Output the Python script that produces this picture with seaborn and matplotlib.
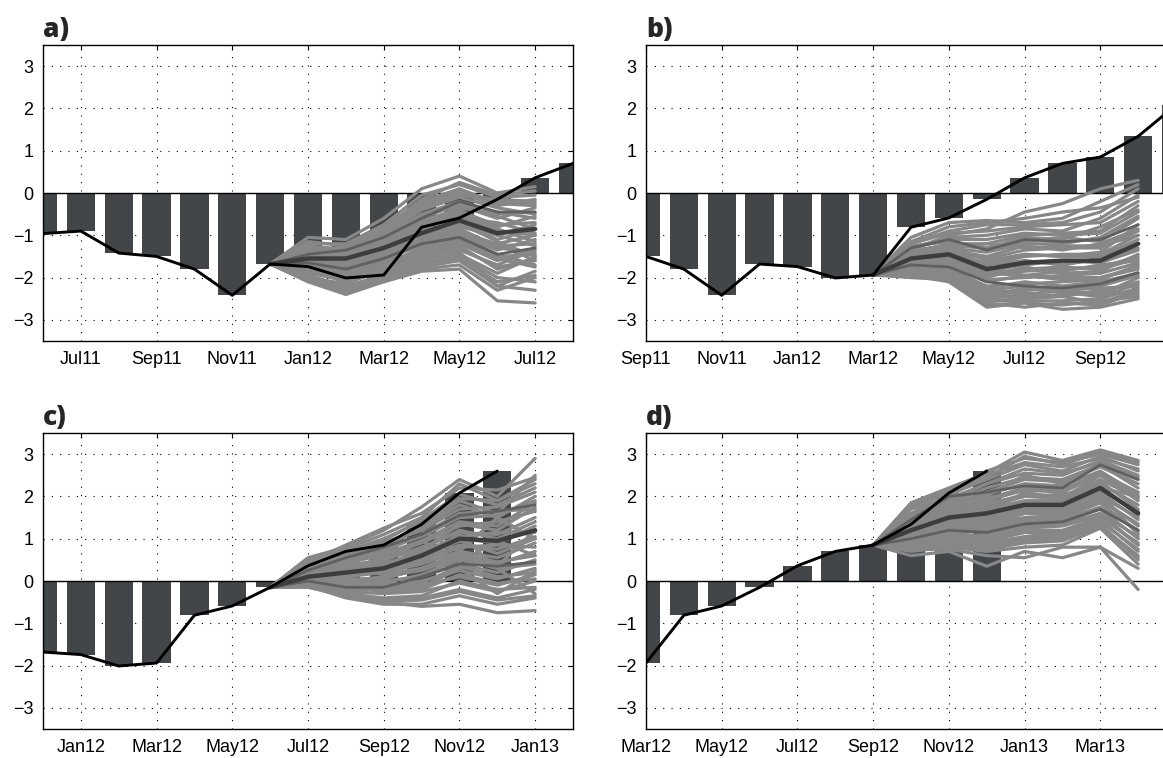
import numpy as np
import pandas as pd
import matplotlib
matplotlib.use("Agg")
import matplotlib.pyplot as plt
import seaborn as sns

# ---------------- data ----------------
months = ["Jun11", "Jul11", "Aug11", "Sep11", "Oct11", "Nov11", "Dec11",
          "Jan12", "Feb12", "Mar12", "Apr12", "May12", "Jun12", "Jul12",
          "Aug12", "Sep12", "Oct12", "Nov12", "Dec12", "Jan13", "Feb13",
          "Mar13", "Apr13", "May13"]

# observed monthly index, Jun11 .. Dec12
obs = [-0.96, -0.90, -1.42, -1.50, -1.80, -2.42, -1.68, -1.74, -2.01, -1.94,
       -0.81, -0.59, -0.15, 0.36, 0.70, 0.85, 1.34, 2.08, 2.60]

panel_labels = ["a)", "b)", "c)", "d)"]
panel_first = ["Jun11", "Sep11", "Dec11", "Mar12"]     # left edge of each panel
panel_last = ["Aug12", "Nov12", "Feb13", "May13"]      # right edge of each panel
fc_start = ["Dec11", "Mar12", "Jun12", "Sep12"]        # forecast initial month

# ensemble members: 7 lead months after the start month
ens_a = [
    [-1.05, -1.10, -0.60, 0.10, 0.40, 0.00, 0.15],
    [-1.20, -1.20, -0.75, -0.05, 0.20, -0.10, -0.05],
    [-1.30, -1.30, -0.90, -0.25, 0.05, -0.20, -0.25],
    [-1.35, -1.40, -1.00, -0.40, -0.10, -0.35, -0.50],
    [-1.40, -1.45, -1.10, -0.55, -0.30, -0.60, -0.35],
    [-1.45, -1.50, -1.20, -0.70, -0.45, -0.75, -0.70],
    [-1.50, -1.55, -1.25, -0.85, -0.55, -0.90, -1.00],
    [-1.55, -1.60, -1.35, -1.00, -0.75, -1.10, -0.85],
    [-1.60, -1.70, -1.40, -1.05, -0.85, -1.25, -1.20],
    [-1.62, -1.75, -1.50, -1.15, -1.00, -1.35, -1.10],
    [-1.70, -1.80, -1.55, -1.25, -1.10, -1.50, -1.45],
    [-1.75, -1.90, -1.65, -1.35, -1.20, -1.60, -1.30],
    [-1.80, -2.00, -1.75, -1.45, -1.30, -1.75, -1.60],
    [-1.85, -2.10, -1.85, -1.55, -1.45, -1.90, -1.50],
    [-1.95, -2.20, -1.95, -1.70, -1.55, -2.10, -1.95],
    [-2.05, -2.35, -2.05, -1.80, -1.70, -2.30, -2.00],
    [-2.10, -2.40, -2.10, -1.85, -1.80, -2.55, -2.60],
    [-1.50, -1.35, -1.00, -0.30, -0.05, -0.15, -0.20],
    [-1.70, -1.65, -1.30, -0.70, -0.35, -0.50, -0.45],
    [-1.90, -1.85, -1.60, -1.10, -0.95, -1.20, -1.60],
    [-1.60, -1.60, -1.15, -0.60, -0.25, -0.55, -0.85],
    [-2.00, -2.15, -1.80, -1.60, -1.40, -2.20, -1.85],
    [-1.45, -1.70, -1.45, -0.90, -0.70, -1.00, -1.25],
    [-1.55, -1.95, -1.60, -1.20, -1.00, -1.45, -1.70],
    [-1.15, -1.25, -0.85, -0.15, 0.25, -0.05, 0.05],
    [-1.25, -1.35, -0.95, -0.35, 0.00, -0.30, -0.15],
    [-1.40, -1.35, -1.05, -0.50, -0.20, -0.45, -0.60],
    [-1.50, -1.45, -1.15, -0.65, -0.40, -0.80, -0.55],
    [-1.55, -1.65, -1.20, -0.80, -0.60, -0.70, -0.95],
    [-1.65, -1.60, -1.30, -0.95, -0.80, -1.00, -0.75],
    [-1.70, -1.70, -1.45, -1.10, -0.90, -1.30, -1.40],
    [-1.75, -1.85, -1.50, -1.20, -1.05, -1.20, -1.00],
    [-1.80, -1.95, -1.70, -1.30, -1.15, -1.55, -1.75],
    [-1.90, -2.05, -1.75, -1.50, -1.35, -1.70, -1.35],
    [-1.95, -2.25, -1.90, -1.65, -1.50, -2.00, -2.10],
    [-2.00, -2.30, -2.00, -1.75, -1.60, -2.20, -2.30],
    [-1.35, -1.55, -1.25, -0.75, -0.50, -0.85, -1.15],
    [-1.65, -2.00, -1.70, -1.40, -1.25, -1.80, -1.55],
    [-1.45, -1.25, -0.80, -0.20, 0.10, -0.25, -0.30],
    [-1.85, -1.80, -1.40, -0.95, -0.70, -1.15, -1.50],
]
mean_a = [-1.55, -1.55, -1.30, -0.95, -0.65, -0.95, -0.85]
upper_a = [-1.45, -1.35, -1.05, -0.60, -0.20, -0.45, -0.45]
lower_a = [-1.65, -1.80, -1.55, -1.20, -1.05, -1.45, -1.30]

ens_b = [
    [-1.35, -1.00, -0.85, -0.45, -0.25, 0.10, 0.30],
    [-1.05, -0.70, -0.65, -0.70, -0.60, -0.20, 0.20],
    [-1.20, -0.90, -0.75, -0.75, -0.70, -0.45, 0.10],
    [-1.30, -1.05, -1.00, -0.85, -0.90, -0.60, -0.05],
    [-1.40, -1.20, -1.20, -1.00, -0.95, -0.90, -0.30],
    [-1.45, -1.30, -1.40, -1.20, -1.20, -1.05, -0.55],
    [-1.50, -1.40, -1.55, -1.35, -1.30, -1.30, -0.90],
    [-1.55, -1.50, -1.70, -1.50, -1.45, -1.45, -1.00],
    [-1.60, -1.55, -1.85, -1.70, -1.60, -1.65, -1.35],
    [-1.65, -1.60, -1.95, -1.85, -1.80, -1.75, -1.50],
    [-1.70, -1.70, -2.05, -2.00, -1.95, -1.90, -1.65],
    [-1.75, -1.80, -2.20, -2.15, -2.10, -2.05, -1.70],
    [-1.80, -1.90, -2.35, -2.30, -2.25, -2.20, -1.95],
    [-1.85, -1.95, -2.45, -2.45, -2.40, -2.35, -2.10],
    [-1.90, -2.00, -2.55, -2.55, -2.55, -2.50, -2.25],
    [-1.95, -2.10, -2.70, -2.60, -2.75, -2.70, -2.50],
    [-2.00, -2.05, -2.60, -2.70, -2.60, -2.65, -2.35],
    [-1.25, -1.15, -1.30, -1.05, -1.10, -0.80, -0.40],
    [-1.35, -1.25, -1.60, -1.45, -1.50, -1.40, -0.75],
    [-1.55, -1.65, -2.00, -1.75, -1.90, -1.85, -1.45],
    [-1.70, -1.85, -2.30, -2.20, -2.30, -2.40, -2.00],
    [-1.45, -1.35, -1.70, -1.60, -1.70, -1.55, -1.20],
    [-1.60, -1.75, -2.40, -2.35, -2.45, -2.30, -2.40],
    [-1.80, -1.60, -1.90, -1.95, -2.05, -2.00, -1.80],
    [-1.15, -0.80, -0.70, -0.60, -0.45, -0.35, -0.10],
    [-1.20, -0.95, -0.90, -0.80, -0.75, -0.70, -0.20],
    [-1.30, -1.10, -1.10, -0.95, -1.00, -0.95, -0.45],
    [-1.40, -1.25, -1.30, -1.15, -1.05, -1.15, -0.60],
    [-1.45, -1.35, -1.50, -1.25, -1.35, -1.20, -0.85],
    [-1.50, -1.45, -1.65, -1.45, -1.50, -1.50, -1.10],
    [-1.55, -1.55, -1.80, -1.60, -1.70, -1.55, -1.30],
    [-1.60, -1.65, -1.90, -1.80, -1.75, -1.80, -1.55],
    [-1.65, -1.70, -2.10, -1.95, -2.00, -2.00, -1.75],
    [-1.70, -1.75, -2.25, -2.10, -2.20, -2.10, -1.90],
    [-1.75, -1.85, -2.45, -2.25, -2.35, -2.45, -2.15],
    [-1.80, -1.95, -2.55, -2.50, -2.45, -2.60, -2.30],
    [-1.85, -2.00, -2.65, -2.60, -2.65, -2.55, -2.45],
    [-1.50, -1.30, -1.20, -1.30, -1.25, -1.25, -1.00],
    [-1.65, -1.50, -1.75, -1.95, -1.85, -1.70, -1.60],
    [-1.90, -2.05, -2.50, -2.40, -2.30, -2.25, -2.20],
]
mean_b = [-1.55, -1.45, -1.80, -1.65, -1.60, -1.60, -1.20]
upper_b = [-1.30, -1.10, -1.35, -1.10, -1.15, -1.10, -0.75]
lower_b = [-1.70, -1.75, -2.10, -2.20, -2.25, -2.15, -1.88]

ens_c = [
    [0.55, 0.80, 1.20, 1.75, 2.40, 2.00, 2.90],
    [0.45, 0.85, 1.25, 1.60, 2.20, 2.15, 2.45],
    [0.40, 0.70, 1.00, 1.40, 1.95, 1.90, 2.30],
    [0.35, 0.60, 0.90, 1.20, 1.70, 1.75, 2.10],
    [0.30, 0.50, 0.75, 1.05, 1.50, 1.55, 1.90],
    [0.25, 0.45, 0.60, 0.90, 1.30, 1.40, 1.65],
    [0.20, 0.35, 0.50, 0.80, 1.15, 1.10, 1.50],
    [0.15, 0.30, 0.40, 0.65, 1.00, 0.90, 1.30],
    [0.10, 0.20, 0.30, 0.50, 0.85, 0.75, 1.05],
    [0.08, 0.10, 0.20, 0.40, 0.70, 0.55, 0.90],
    [0.05, 0.00, 0.10, 0.25, 0.55, 0.40, 0.70],
    [0.02, -0.05, 0.00, 0.10, 0.40, 0.20, 0.50],
    [0.00, -0.10, -0.10, 0.00, 0.25, 0.05, 0.30],
    [-0.03, -0.20, -0.20, -0.10, 0.10, -0.10, 0.15],
    [-0.05, -0.25, -0.30, -0.25, -0.05, -0.25, 0.00],
    [-0.10, -0.35, -0.45, -0.40, -0.20, -0.40, -0.20],
    [-0.12, -0.40, -0.55, -0.55, -0.35, -0.55, -0.40],
    [-0.15, -0.35, -0.50, -0.60, -0.55, -0.75, -0.70],
    [0.30, 0.55, 0.85, 1.30, 1.90, 1.60, 2.50],
    [0.15, 0.25, 0.55, 0.70, 1.35, 1.20, 1.75],
    [0.10, 0.30, 0.15, 0.30, 0.60, 0.35, 1.20],
    [0.00, 0.05, -0.25, -0.15, 0.30, -0.30, 0.25],
    [0.20, 0.40, 0.45, 0.95, 0.45, 0.95, 0.60],
    [0.05, 0.15, 0.35, 0.55, 1.10, 0.30, -0.30],
    [0.50, 0.75, 1.10, 1.50, 2.30, 1.90, 2.40],
    [0.45, 0.65, 0.95, 1.45, 2.05, 1.80, 2.20],
    [0.35, 0.55, 0.80, 1.25, 1.80, 1.50, 2.00],
    [0.30, 0.45, 0.70, 1.10, 1.60, 1.65, 1.70],
    [0.25, 0.40, 0.65, 0.95, 1.40, 1.30, 1.85],
    [0.20, 0.30, 0.55, 0.75, 1.20, 1.00, 1.40],
    [0.15, 0.25, 0.40, 0.70, 1.05, 1.15, 1.15],
    [0.12, 0.20, 0.25, 0.55, 0.95, 0.65, 1.00],
    [0.10, 0.15, 0.20, 0.45, 0.80, 0.85, 0.80],
    [0.05, 0.05, 0.05, 0.30, 0.65, 0.45, 0.60],
    [0.03, 0.00, -0.05, 0.15, 0.50, 0.30, 0.40],
    [0.00, -0.10, -0.15, -0.05, 0.35, 0.10, 0.20],
    [-0.05, -0.15, -0.25, -0.20, 0.15, -0.05, 0.05],
    [-0.08, -0.30, -0.40, -0.35, 0.00, -0.20, -0.15],
    [-0.10, -0.35, -0.50, -0.45, -0.25, -0.45, -0.35],
    [0.25, 0.50, 0.90, 1.20, 0.70, 1.50, 1.00],
]
mean_c = [0.10, 0.20, 0.30, 0.60, 1.00, 0.95, 1.20]
upper_c = [0.25, 0.55, 0.80, 1.10, 1.55, 1.65, 1.80]
lower_c = [0.00, -0.15, -0.15, 0.10, 0.40, 0.35, 0.45]

ens_d = [
    [1.85, 2.20, 2.55, 3.05, 2.85, 3.10, 2.85],
    [1.75, 2.10, 2.60, 2.90, 2.80, 3.00, 2.75],
    [1.60, 2.05, 2.40, 2.75, 2.60, 2.95, 2.60],
    [1.50, 1.90, 2.30, 2.55, 2.50, 2.85, 2.50],
    [1.40, 1.80, 2.10, 2.40, 2.35, 2.70, 2.30],
    [1.35, 1.70, 1.95, 2.20, 2.15, 2.55, 2.10],
    [1.25, 1.60, 1.80, 2.05, 2.00, 2.40, 1.95],
    [1.20, 1.50, 1.70, 1.90, 1.90, 2.30, 1.80],
    [1.15, 1.45, 1.55, 1.75, 1.75, 2.15, 1.65],
    [1.10, 1.35, 1.45, 1.65, 1.65, 2.00, 1.50],
    [1.05, 1.25, 1.35, 1.50, 1.55, 1.90, 1.35],
    [1.00, 1.15, 1.25, 1.40, 1.45, 1.75, 1.20],
    [0.95, 1.05, 1.10, 1.30, 1.35, 1.60, 1.05],
    [0.90, 1.00, 1.00, 1.20, 1.20, 1.50, 0.90],
    [0.85, 0.90, 0.90, 1.05, 1.10, 1.40, 0.75],
    [0.80, 0.85, 0.80, 0.95, 1.00, 1.30, 0.60],
    [0.70, 0.80, 0.70, 0.80, 0.85, 1.25, 0.40],
    [0.60, 0.70, 0.35, 0.70, 0.55, 0.80, -0.20],
    [0.75, 0.75, 0.60, 0.55, 0.80, 0.80, 0.30],
    [1.30, 1.65, 2.00, 2.50, 2.30, 2.75, 2.40],
    [1.10, 1.50, 1.60, 2.10, 1.95, 2.50, 1.90],
    [0.95, 1.20, 1.30, 1.60, 1.55, 2.05, 1.10],
    [0.85, 1.10, 0.95, 1.15, 1.05, 1.60, 0.85],
    [1.45, 1.55, 1.85, 2.00, 2.05, 2.20, 2.00],
    [1.80, 2.15, 2.45, 2.95, 2.75, 3.05, 2.80],
    [1.70, 2.00, 2.50, 2.80, 2.70, 2.90, 2.65],
    [1.55, 1.95, 2.30, 2.65, 2.55, 2.80, 2.45],
    [1.45, 1.85, 2.20, 2.45, 2.40, 2.75, 2.20],
    [1.40, 1.75, 2.05, 2.30, 2.25, 2.60, 2.05],
    [1.30, 1.60, 1.90, 2.15, 2.10, 2.50, 2.00],
    [1.25, 1.55, 1.75, 2.00, 1.95, 2.35, 1.70],
    [1.20, 1.45, 1.65, 1.85, 1.85, 2.25, 1.55],
    [1.15, 1.40, 1.50, 1.70, 1.70, 2.10, 1.45],
    [1.10, 1.30, 1.40, 1.60, 1.60, 1.95, 1.30],
    [1.05, 1.20, 1.30, 1.45, 1.50, 1.85, 1.15],
    [1.00, 1.10, 1.20, 1.35, 1.40, 1.70, 1.00],
    [0.95, 1.00, 1.05, 1.25, 1.30, 1.55, 0.85],
    [0.90, 0.95, 0.95, 1.15, 1.15, 1.45, 0.70],
    [0.80, 0.90, 0.85, 1.00, 1.05, 1.35, 0.50],
    [0.75, 0.80, 0.75, 0.90, 0.95, 1.30, 0.55],
]
mean_d = [1.20, 1.50, 1.60, 1.80, 1.80, 2.20, 1.60]
upper_d = [1.45, 2.00, 2.10, 2.25, 2.20, 2.75, 2.40]
lower_d = [1.00, 1.20, 1.15, 1.35, 1.40, 1.70, 1.20]

ensembles = [ens_a, ens_b, ens_c, ens_d]
means = [mean_a, mean_b, mean_c, mean_d]
uppers = [upper_a, upper_b, upper_c, upper_d]
lowers = [lower_a, lower_b, lower_c, lower_d]

# ---------------- style ----------------
sns.set_style("white")
plt.rcParams["font.family"] = ["Liberation Sans", "DejaVu Sans"]
plt.rcParams["axes.unicode_minus"] = True

BAR = "#424649"
ENS = "#878787"
MID = "#606060"
MEAN = "#3d3d3d"

W, H = 1163, 758
fig = plt.figure(figsize=(W / 100, H / 100), dpi=100)
fig.patch.set_facecolor("white")

# axes boxes in pixels: left, top, width, height
boxes = [(43, 45, 530, 296), (646, 45, 530, 296),
         (43, 433, 530, 296), (646, 433, 530, 296)]

idx = {m: i for i, m in enumerate(months)}
obs_df = pd.DataFrame({"m": np.arange(len(obs)), "v": obs})

for p in range(4):
    l, t, w, h = boxes[p]
    ax = fig.add_axes([l / W, 1 - (t + h) / H, w / W, h / H])
    lo, hi = idx[panel_first[p]], idx[panel_last[p]]

    # observed bars
    sns.barplot(data=obs_df, x="m", y="v", native_scale=True, color=BAR,
                saturation=1, width=0.75, linewidth=0, errorbar=None,
                ax=ax, zorder=1)
    ax.axhline(0, color="black", lw=1.0, zorder=1.5)

    # ensemble
    s = idx[fc_start[p]]
    start_val = obs[s]
    rows = []
    for k, mem in enumerate(ensembles[p]):
        vals = [start_val] + list(mem)
        for j, v in enumerate(vals):
            rows.append((s + j, v, k))
    ens_df = pd.DataFrame(rows, columns=["m", "v", "member"])
    sns.lineplot(data=ens_df, x="m", y="v", units="member", estimator=None,
                 color=ENS, lw=2.3, ax=ax, legend=False, zorder=2)

    xs = np.arange(s, s + 8)
    for arr, col, lw, z in [(uppers[p], MID, 2.0, 2.5), (lowers[p], MID, 2.0, 2.5),
                            (means[p], MEAN, 3.2, 3)]:
        sns.lineplot(x=xs, y=[start_val] + list(arr), color=col, lw=lw,
                     ax=ax, zorder=z)

    # observed line
    sns.lineplot(data=obs_df, x="m", y="v", color="black", lw=2.1, ax=ax,
                 zorder=4)

    ax.set_xlim(lo, hi)
    ax.set_ylim(-3.5, 3.5)
    ticks = [i for i in range(lo, hi) if i % 2 == 1]
    ax.set_xticks(ticks)
    ax.set_xticklabels([months[i] for i in ticks])
    ax.set_yticks(range(-3, 4))
    ax.set_xlabel("")
    ax.set_ylabel("")
    ax.tick_params(direction="in", length=3.6, width=0.8, top=True,
                   right=True, pad=7, labelsize=13, colors="black")
    ax.set_axisbelow(True)
    ax.grid(True, linestyle=(0, (1, 6.5)), color="black", linewidth=0.8)
    for sp in ax.spines.values():
        sp.set_visible(True)
        sp.set_linewidth(1.0)
        sp.set_color("black")

    ax.text(0.0, 1.0 + 8 / h, panel_labels[p], transform=ax.transAxes,
            ha="left", va="baseline", fontsize=19, fontweight="heavy",
            family=["Open Sans", "DejaVu Sans"])

fig.savefig("out.png", dpi=100, facecolor="white")
